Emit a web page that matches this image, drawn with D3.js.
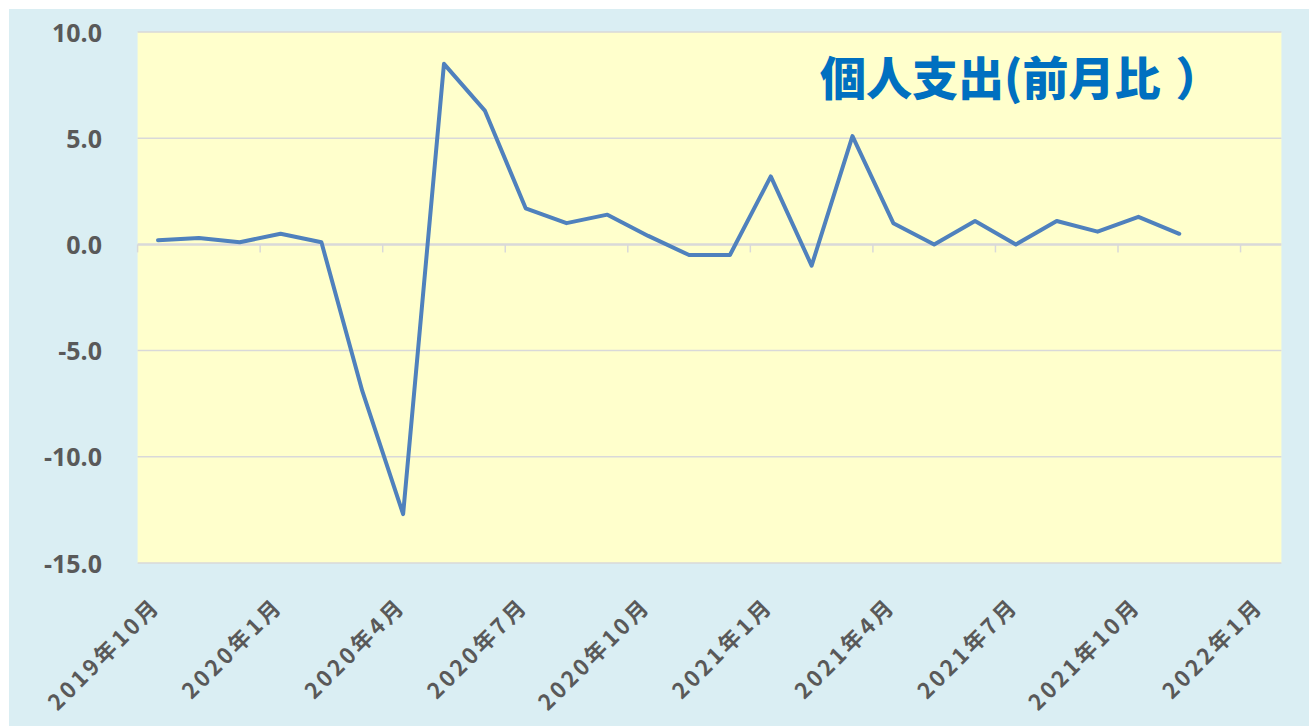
<!DOCTYPE html>
<html>
<head>
<meta charset="utf-8">
<script src="https://cdn.jsdelivr.net/npm/d3@7"></script>
<style>
  html, body { margin: 0; padding: 0; background: #ffffff; }
  svg { display: block; }
</style>
</head>
<body>
<svg id="chart" width="1309" height="726"></svg>
<script>
// ---- data ----
const categories = [
  "2019年10月","2019年11月","2019年12月",
  "2020年1月","2020年2月","2020年3月","2020年4月","2020年5月","2020年6月",
  "2020年7月","2020年8月","2020年9月","2020年10月","2020年11月","2020年12月",
  "2021年1月","2021年2月","2021年3月","2021年4月","2021年5月","2021年6月",
  "2021年7月","2021年8月","2021年9月","2021年10月","2021年11月","2021年12月",
  "2022年1月"
];
const values = [
  0.2, 0.3, 0.1,
  0.5, 0.1, -6.9, -12.7, 8.5, 6.3, 1.7, 1.0, 1.4, 0.4, -0.5, -0.5,
  3.2, -1.0, 5.1, 1.0, 0.0, 1.1, 0.0, 1.1, 0.6, 1.3, 0.5
];
const yTicks = [10, 5, 0, -5, -10, -15];
const xTickLabels = ["2019年10月","2020年1月","2020年4月","2020年7月","2020年10月",
  "2021年1月","2021年4月","2021年7月","2021年10月","2022年1月"];
const titleMain = "個人支出(前月比";
const titleClose = "）";

// ---- layout ----
const svg = d3.select("#chart");
const W = 1309, H = 726;
const plot = { left: 137.6, right: 1281.4, top: 32, bottom: 563 };

svg.append("rect").attr("x", 9).attr("y", 9).attr("width", W - 9).attr("height", H - 9)
  .attr("fill", "#DAEEF3");
svg.append("rect").attr("x", plot.left).attr("y", plot.top)
  .attr("width", plot.right - plot.left).attr("height", plot.bottom - plot.top)
  .attr("fill", "#FFFFCC");

const x = d3.scaleBand().domain(categories).range([plot.left, plot.right]).padding(0);
const y = d3.scaleLinear().domain([-15, 10]).range([plot.bottom, plot.top]);

// gridlines
svg.append("g").selectAll("line").data(yTicks.filter(d => d !== 0)).join("line")
  .attr("x1", plot.left).attr("x2", plot.right)
  .attr("y1", d => y(d)).attr("y2", d => y(d))
  .attr("stroke", "#D9D9D9").attr("stroke-width", 1.5);

// y labels
const fmt = d3.format(".1f");
const yAxis = d3.axisLeft(y).tickValues(yTicks).tickSize(0).tickPadding(0)
  .tickFormat(d => fmt(d).replace("\u2212", "-"));
const gy = svg.append("g").attr("transform", `translate(102,0)`).call(yAxis);
gy.select(".domain").remove();
gy.selectAll("text")
  .attr("font-family", "'Open Sans', 'DejaVu Sans', sans-serif")
  .attr("font-weight", 700).attr("font-size", 25).attr("fill", "#595959")
  .attr("dy", "0.36em");

// zero axis line with ticks between categories
const tickIdx = d3.range(0, categories.length + 1, 3);
const boundary = i => i < categories.length ? x(categories[i]) : plot.right;
svg.append("g").selectAll("line").data(tickIdx).join("line")
  .attr("x1", i => boundary(i)).attr("x2", i => boundary(i))
  .attr("y1", y(0)).attr("y2", y(0) + 8)
  .attr("stroke", "#D9D9D9").attr("stroke-width", 1.5);
svg.append("line").attr("x1", plot.left).attr("x2", plot.right)
  .attr("y1", y(0)).attr("y2", y(0))
  .attr("stroke", "#D9D9D9").attr("stroke-width", 2.5);

// x labels
const xAxis = d3.axisBottom(x).tickValues(xTickLabels).tickSize(0).tickPadding(0);
const gx = svg.append("g").attr("transform", `translate(0,${plot.bottom})`).call(xAxis);
gx.select(".domain").remove();
gx.selectAll(".tick text")
  .attr("font-family", "'Noto Sans CJK JP', sans-serif")
  .attr("font-weight", 700).attr("font-size", 22).attr("fill", "#595959")
  .attr("letter-spacing", 3.2)
  .attr("text-anchor", "end")
  .attr("x", 0).attr("y", 0).attr("dy", "0.35em")
  .attr("transform", `translate(${x.bandwidth() / 2 - 22},39) rotate(-45)`);

// line
const line = d3.line()
  .x((d, i) => x(categories[i]) + x.bandwidth() / 2)
  .y(d => y(d));
svg.append("path").datum(values)
  .attr("d", line)
  .attr("fill", "none").attr("stroke", "#4F81BD")
  .attr("stroke-width", 4).attr("stroke-linejoin", "round").attr("stroke-linecap", "round");

// title
const t = svg.append("text").attr("x", 820).attr("y", 75)
  .attr("dominant-baseline", "central")
  .attr("font-family", "'Noto Sans CJK JP', sans-serif")
  .attr("font-weight", 900).attr("font-size", 46).attr("fill", "#0070C0");
t.append("tspan").text(titleMain);
t.append("tspan").attr("dx", 15).text(titleClose);
</script>
</body>
</html>
